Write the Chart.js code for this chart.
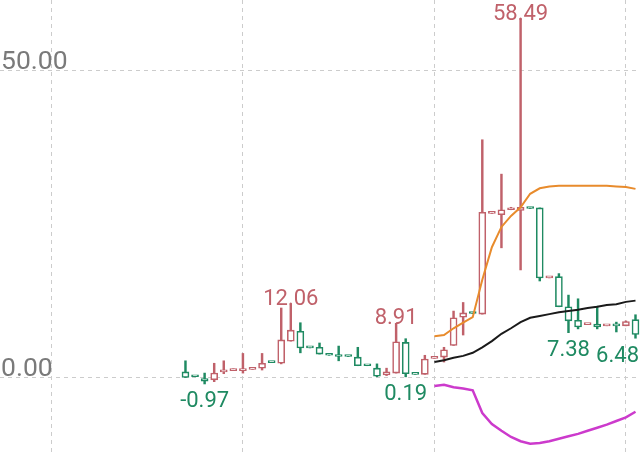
<!DOCTYPE html>
<html><head><meta charset="utf-8">
<script src="https://cdn.jsdelivr.net/npm/chart.js@4"></script>
<style>html,body{margin:0;padding:0;background:#fff}#wrap{width:640px;height:455px;position:relative}</style>
</head><body><div id="wrap"><canvas id="c"></canvas></div>
<script>
// candle data (index 0..47)
const opens  = [1.0,0.3,0.0,-0.3,1.0,1.2,1.2,1.4,1.6,2.7,2.4,6.0,7.6,5.1,5.0,3.8,3.6,3.6,3.4,2.1,1.6,0.5,0.8,5.8,0.7,0.6,3.2,3.4,5.3,9.9,10.7,10.4,26.8,26.6,27.4,27.3,27.8,27.7,16.3,16.5,11.6,9.4,8.7,8.8,8.5,8.6,8.5,9.5];
const highs  = [2.8,0.3,0.8,2.4,2.8,1.5,4.0,1.5,4.0,2.7,11.4,12.06,9.0,5.1,5.7,3.8,5.2,3.6,5.0,2.1,2.3,1.6,8.91,6.4,0.7,3.7,3.5,5.0,10.9,12.3,10.7,38.8,27.0,33.2,27.8,58.49,27.8,27.7,16.5,17.0,13.5,12.9,8.8,11.7,8.6,9.1,9.3,10.3];
const lows   = [0.0,0.2,-0.97,-0.6,0.7,1.2,0.8,1.4,1.3,2.5,2.3,6.0,4.1,4.9,3.9,3.7,2.8,3.5,2.0,2.0,0.2,0.4,0.8,0.19,0.6,0.6,3.2,2.6,5.3,7.0,10.5,10.4,26.8,21.2,27.4,17.6,27.6,15.8,16.3,11.6,7.38,8.0,8.7,8.0,8.5,7.5,8.5,6.48];
const closes = [0.0,0.2,-0.5,0.8,1.3,1.4,1.5,1.5,2.4,2.5,6.2,7.8,4.9,4.9,3.9,3.7,3.5,3.5,2.0,2.0,0.3,1.0,5.9,0.7,0.6,3.1,3.5,4.6,9.8,10.6,10.5,27.0,27.0,27.4,27.6,27.8,27.6,16.3,16.5,11.6,9.3,8.3,8.8,8.3,8.6,8.5,9.2,7.1];
// indicator lines, starting at candle index maStart
const maStart = 26;
const maOrange  = [6.8,7.0,8.1,9.0,9.9,16.0,21.3,24.6,26.4,27.8,30.0,30.9,31.2,31.3,31.3,31.3,31.3,31.3,31.3,31.2,31.1,30.8];
const maBlack   = [2.6,2.9,3.3,3.6,4.1,5.0,6.0,7.2,8.1,9.1,9.8,10.1,10.4,10.7,10.9,11.1,11.4,11.6,11.9,12.0,12.4,12.6];
const maMagenta = [-1.3,-1.1,-1.5,-1.7,-2.0,-5.7,-7.5,-8.6,-9.6,-10.3,-10.7,-10.6,-10.3,-9.9,-9.5,-9.1,-8.6,-8.1,-7.6,-7.0,-6.4,-5.5];
// axis ticks
const yTicks = [0, 50];
const xGridIdx = [-14, 6, 26, 46];
// marked extremes
const markIdx  = [2, 11, 22, 23, 35, 40, 47];
const markSide = ['low','high','high','low','high','low','low'];

const RED = '#c0616a', GREEN = '#1f8a62';
const colorOf = i => closes[i] >= opens[i] ? RED : GREEN;

const lineData = arr => arr.map((v,k)=>({x: maStart + k, y: v}));

const markPlugin = {
  id: 'marks',
  afterDatasetsDraw(chart) {
    const ctx = chart.ctx, xs = chart.scales.x, ys = chart.scales.y, ca = chart.chartArea;
    ctx.save();
    ctx.font = '22px Roboto';
    ctx.textAlign = 'center';
    markIdx.forEach((idx, k) => {
      const hi = markSide[k] === 'high';
      const v = hi ? highs[idx] : lows[idx];
      const txt = v.toFixed(2);
      const w = ctx.measureText(txt).width;
      let x = xs.getPixelForValue(idx);
      x = Math.max(ca.left + w/2 + 1, Math.min(ca.right - w/2 - 1, x));
      const y = ys.getPixelForValue(v);
      ctx.fillStyle = colorOf(idx);
      if (hi) { ctx.textBaseline = 'alphabetic'; ctx.fillText(txt, x, y + 1); }
      else { ctx.textBaseline = 'top'; ctx.fillText(txt, x, y + 7); }
    });
    ctx.restore();
  }
};

new Chart(document.getElementById('c'), {
  type: 'bar',
  data: {
    datasets: [
      { type:'line', data: lineData(maOrange), borderColor:'#e88b2c', borderWidth:2, pointRadius:0, tension:0 },
      { type:'line', data: lineData(maBlack), borderColor:'#1a1a1a', borderWidth:2, pointRadius:0, tension:0 },
      { type:'line', data: lineData(maMagenta), borderColor:'#cc3acc', borderWidth:2.5, pointRadius:0, tension:0 },
      { type:'bar', grouped:false, data: opens.map((o,i)=>({x:i, y:[o, closes[i]]})),
        backgroundColor:'#ffffff', borderColor: c => colorOf(c.dataIndex), borderWidth:1.6,
        borderSkipped:false, barThickness:7, minBarLength:2 },
      { type:'bar', grouped:false, data: lows.map((l,i)=>({x:i, y:[l, highs[i]]})),
        backgroundColor: c => colorOf(c.dataIndex), borderWidth:0, barThickness:1.8 }
    ]
  },
  options: {
    responsive:true, maintainAspectRatio:false, animation:false,
    layout:{padding:0},
    plugins:{ legend:{display:false}, tooltip:{enabled:false} },
    scales:{
      x:{ type:'linear', min:-19.37, max:47.47, offset:false,
          afterBuildTicks: s => { s.ticks = xGridIdx.map(v=>({value:v})); },
          afterFit: s => { s.height = 0; s.paddingLeft = 0; s.paddingRight = 0; s.paddingTop = 0; s.paddingBottom = 0; },
          ticks:{display:false},
          grid:{offset:false, color:'#cccccc', lineWidth:1, drawTicks:false},
          border:{display:false, dash:[4,4]} },
      y:{ type:'linear', min:-12.54, max:61.56, beginAtZero:false,
          afterBuildTicks: s => { s.ticks = yTicks.map(v=>({value:v})); },
          afterFit: s => { s.width = 0; s.paddingTop = 0; s.paddingBottom = 0; s.paddingLeft = 0; s.paddingRight = 0; },
          ticks:{ mirror:true, padding:1, labelOffset:-8.5, color:'#7a7a7a',
                  font:{family:'Roboto', size:26.5}, callback: v => Number(v).toFixed(2) },
          grid:{color:'#cccccc', lineWidth:1, drawTicks:false},
          border:{display:false, dash:[4,4]} }
    }
  },
  plugins:[markPlugin]
});
</script></body></html>
